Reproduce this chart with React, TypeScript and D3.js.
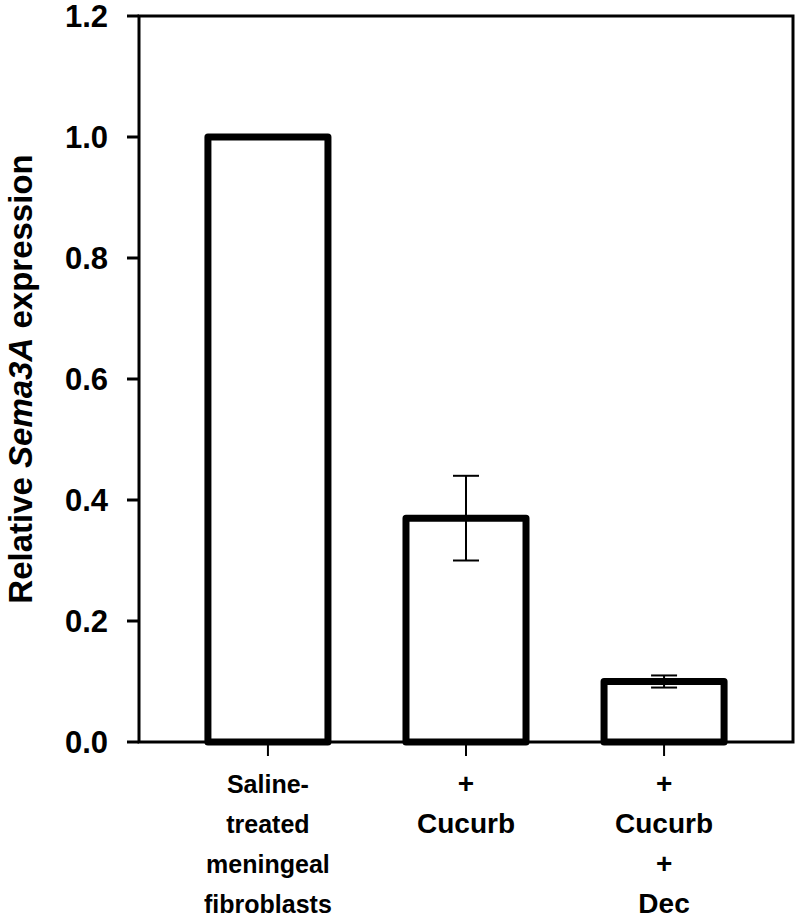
import { useEffect, useRef } from "react";
import * as d3 from "d3";

// Chart data
const categories = ["saline", "cucurb", "cucurbDec"];
const categoryLines = [
  ["Saline-", "treated", "meningeal", "fibroblasts"],
  ["+", "Cucurb"],
  ["+", "Cucurb", "+", "Dec"],
];
const values = [1.0, 0.37, 0.1];
const errLow = [null, 0.3, 0.09];
const errHigh = [null, 0.44, 0.11];
const yTicks = [0, 0.2, 0.4, 0.6, 0.8, 1.0, 1.2];

const FONT = "'Liberation Sans', Arial, Helvetica, sans-serif";

export default function App() {
  const svgRef = useRef<SVGSVGElement | null>(null);

  useEffect(() => {
    const svgEl = svgRef.current;
    if (!svgEl) return;
    const width = 800;
    const height = 921;
    const svg = d3.select(svgEl);
    svg.selectAll("*").remove();

    const left = 139;
    const right = 793;
    const top = 16;
    const bottom = 742;

    const x = d3
      .scaleBand<string>()
      .domain(categories)
      .range([left, right])
      .paddingInner(0.394)
      .paddingOuter(0.348);

    const y = d3.scaleLinear().domain([0, 1.2]).range([bottom, top]);

    // frame
    svg
      .append("rect")
      .attr("x", left)
      .attr("y", top)
      .attr("width", right - left)
      .attr("height", bottom - top)
      .attr("fill", "none")
      .attr("stroke", "#000")
      .attr("stroke-width", 3);

    // bars
    svg
      .append("g")
      .selectAll("rect")
      .data(values)
      .join("rect")
      .attr("x", (_, i) => x(categories[i])!)
      .attr("y", (d) => y(d))
      .attr("width", x.bandwidth())
      .attr("height", (d) => bottom - y(d))
      .attr("fill", "#fff")
      .attr("stroke", "#000")
      .attr("stroke-width", 7)
      .attr("stroke-linejoin", "round");

    // error bars
    const eg = svg.append("g").attr("stroke", "#000").attr("stroke-width", 2);
    values.forEach((_, i) => {
      const lo = errLow[i];
      const hi = errHigh[i];
      if (lo == null || hi == null) return;
      const cx = x(categories[i])! + x.bandwidth() / 2;
      eg.append("line").attr("x1", cx).attr("x2", cx).attr("y1", y(lo)).attr("y2", y(hi));
      [lo, hi].forEach((v) => {
        eg.append("line")
          .attr("x1", cx - 13)
          .attr("x2", cx + 13)
          .attr("y1", y(v))
          .attr("y2", y(v));
      });
    });

    // y axis ticks + labels
    const yAxis = svg.append("g");
    yAxis
      .selectAll("line")
      .data(yTicks)
      .join("line")
      .attr("x1", left - 12)
      .attr("x2", left)
      .attr("y1", (d) => y(d))
      .attr("y2", (d) => y(d))
      .attr("stroke", "#000")
      .attr("stroke-width", 3);
    yAxis
      .selectAll("text")
      .data(yTicks)
      .join("text")
      .attr("x", 108)
      .attr("y", (d) => y(d))
      .attr("dy", "0.36em")
      .attr("text-anchor", "end")
      .attr("font-family", FONT)
      .attr("font-weight", "bold")
      .attr("font-size", 31)
      .text((d) => d3.format(".1f")(d));

    // x ticks + labels
    const xg = svg.append("g");
    categories.forEach((c, i) => {
      const cx = x(c)! + x.bandwidth() / 2;
      xg.append("line")
        .attr("x1", cx)
        .attr("x2", cx)
        .attr("y1", bottom)
        .attr("y2", bottom + 14)
        .attr("stroke", "#000")
        .attr("stroke-width", 2);
      const t = xg
        .append("text")
        .attr("text-anchor", "middle")
        .attr("font-family", FONT)
        .attr("font-weight", "bold")
        .attr("font-size", i === 0 ? 25 : 28);
      categoryLines[i].forEach((line, j) => {
        t.append("tspan").attr("x", cx).attr("y", 793 + j * 40).text(line);
      });
    });

    // y title
    const title = svg
      .append("text")
      .attr("transform", `translate(32,${(top + bottom) / 2}) rotate(-90)`)
      .attr("text-anchor", "middle")
      .attr("font-family", FONT)
      .attr("font-weight", "bold")
      .attr("font-size", 33);
    title.append("tspan").text("Relative ");
    title.append("tspan").attr("font-style", "italic").text("Sema3A");
    title.append("tspan").text(" expression");

    svg.attr("width", width).attr("height", height);
  }, []);

  return (
    <svg
      ref={svgRef}
      width={800}
      height={921}
      style={{ position: "absolute", left: 0, top: 0, background: "#fff" }}
    />
  );
}
